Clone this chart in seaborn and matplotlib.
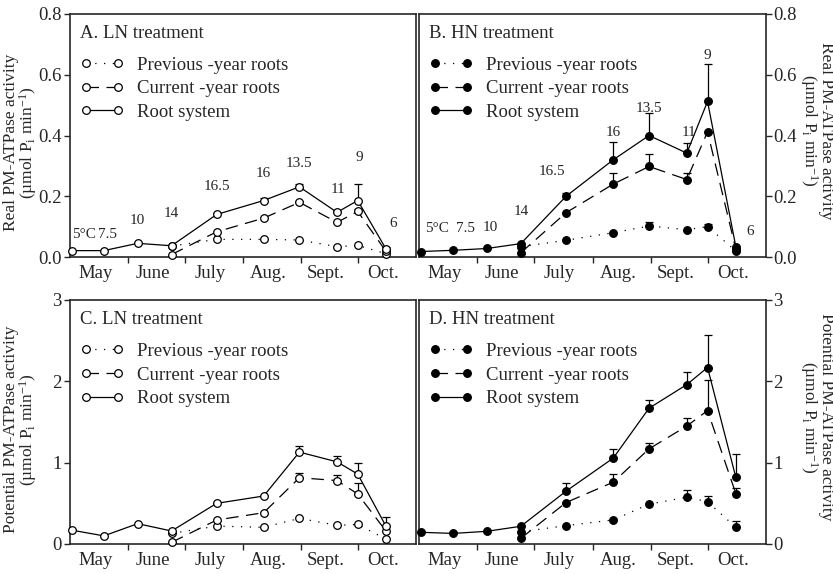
import numpy as np
import pandas as pd
import matplotlib
matplotlib.use("Agg")
import matplotlib.pyplot as plt
import seaborn as sns

# ------------------------------------------------------------------ data
sample_days = [1, 18, 36, 54, 78, 103, 122, 142, 153, 168]   # days after 1 May
temperatures = ["5°C", "7.5", "10", "14", "16.5", "16", "13.5", "11", "9", "6"]
month_labels = ["May", "June", "July", "Aug.", "Sept.", "Oct."]
month_starts = [0, 31, 61, 92, 123, 153, 184]
series_labels = ["Previous -year roots", "Current -year roots", "Root system"]
nan = np.nan

# A. LN treatment, real activity
ln_real_prev = [nan, nan, nan, 0.036, 0.058, 0.058, 0.056, 0.034, 0.038, 0.011]
ln_real_curr = [nan, nan, nan, 0.008, 0.083, 0.128, 0.180, 0.114, 0.150, 0.019]
ln_real_root = [0.021, 0.021, 0.045, 0.037, 0.140, 0.186, 0.231, 0.147, 0.186, 0.027]
ln_real_prev_err = [0, 0, 0, 0, 0, 0, 0, 0, 0, 0]
ln_real_curr_err = [0, 0, 0, 0, 0, 0, 0.004, 0, 0.008, 0]
ln_real_root_err = [0, 0, 0, 0, 0.004, 0.008, 0.010, 0.006, 0.055, 0.005]

# B. HN treatment, real activity
hn_real_prev = [nan, nan, nan, 0.034, 0.055, 0.080, 0.102, 0.090, 0.100, 0.020]
hn_real_curr = [nan, nan, nan, 0.014, 0.146, 0.240, 0.298, 0.255, 0.412, 0.026]
hn_real_root = [0.018, 0.022, 0.028, 0.044, 0.200, 0.320, 0.400, 0.342, 0.512, 0.034]
hn_real_prev_err = [0, 0, 0, 0, 0, 0, 0.012, 0, 0.010, 0]
hn_real_curr_err = [0, 0, 0, 0, 0, 0.035, 0.040, 0.020, 0, 0]
hn_real_root_err = [0, 0, 0, 0, 0.012, 0.060, 0.075, 0.033, 0.125, 0]

# C. LN treatment, potential activity
ln_pot_prev = [nan, nan, nan, 0.13, 0.22, 0.205, 0.315, 0.23, 0.24, 0.06]
ln_pot_curr = [nan, nan, nan, 0.02, 0.295, 0.385, 0.815, 0.78, 0.615, 0.16]
ln_pot_root = [0.17, 0.10, 0.25, 0.16, 0.50, 0.59, 1.13, 1.01, 0.86, 0.22]
ln_pot_prev_err = [0, 0, 0, 0, 0, 0, 0, 0, 0, 0]
ln_pot_curr_err = [0, 0, 0, 0, 0, 0, 0.06, 0.07, 0.14, 0]
ln_pot_root_err = [0, 0, 0, 0, 0.02, 0, 0.08, 0.07, 0.14, 0.11]

# D. HN treatment, potential activity
hn_pot_prev = [nan, nan, nan, 0.15, 0.226, 0.296, 0.49, 0.575, 0.52, 0.205]
hn_pot_curr = [nan, nan, nan, 0.07, 0.51, 0.76, 1.17, 1.45, 1.64, 0.62]
hn_pot_root = [0.144, 0.13, 0.156, 0.218, 0.65, 1.056, 1.67, 1.96, 2.17, 0.82]
hn_pot_prev_err = [0, 0, 0, 0, 0, 0, 0, 0.095, 0.075, 0.08]
hn_pot_curr_err = [0, 0, 0, 0, 0, 0.10, 0.07, 0.10, 0.38, 0.07]
hn_pot_root_err = [0, 0, 0, 0, 0.10, 0.115, 0.095, 0.15, 0.40, 0.29]

# temperature label placement (layout: day, y in data units)
temp_pos_A = [(7.5, 0.075), (20, 0.075), (35.6, 0.121), (54, 0.143), (78, 0.233),
              (103, 0.275), (122, 0.309), (142.5, 0.222), (153.7, 0.329), (171.8, 0.11)]
temp_pos_B = [(9.5, 0.095), (24.5, 0.095), (37.6, 0.098), (54, 0.15), (70.5, 0.28),
              (103, 0.41), (122, 0.49), (143, 0.41), (153, 0.665), (175.5, 0.085)]

# ------------------------------------------------------------------ style
sns.set_style("ticks")
plt.rcParams["font.family"] = ["Liberation Serif", "DejaVu Serif"]
plt.rcParams["mathtext.fontset"] = "custom"
plt.rcParams["mathtext.rm"] = "Liberation Serif"
plt.rcParams["mathtext.it"] = "Liberation Serif:italic"
plt.rcParams["axes.linewidth"] = 1.2

W, H = 833, 574
fig = plt.figure(figsize=(W / 100, H / 100), dpi=100)
fig.patch.set_facecolor("white")


def add_ax(l, r, t, b):
    return fig.add_axes([l / W, 1 - b / H, (r - l) / W, (b - t) / H])


axA = add_ax(70, 416, 14, 257)
axB = add_ax(419, 766, 14, 257)
axC = add_ax(70, 416, 300, 544)
axD = add_ax(419, 766, 300, 544)

styles = [(0, (1, 6)), (0, (10, 6)), "-"]


def draw(ax, prev, curr, root, errs, filled, ylim, yticks, fmt, title, side,
         ylabel_top, temp_pos=None):
    face = "black" if filled else "white"
    for vals, err, ls, lab in zip([prev, curr, root], errs, styles, series_labels):
        df = pd.DataFrame({"day": sample_days, "val": vals, "err": err}).dropna()
        sns.lineplot(data=df, x="day", y="val", ax=ax, color="black", lw=0.9,
                     linestyle=ls, marker="o", ms=5.5, mfc=face, mec="black",
                     mew=0.9, label=lab, zorder=4, errorbar=None, clip_on=False)
        e = df[df["err"] > 0]
        if len(e):
            ax.errorbar(e["day"], e["val"], yerr=[np.zeros(len(e)), e["err"]],
                        fmt="none", ecolor="black", elinewidth=0.9, capsize=3,
                        capthick=0.9, zorder=3)
    ax.set_xlim(month_starts[0], month_starts[-1])
    ax.set_ylim(*ylim)
    ax.set_xticks(month_starts[1:-1])
    ax.set_xticklabels([])
    centers = [(a + b) / 2 - 2 for a, b in zip(month_starts[:-1], month_starts[1:])]
    ax.set_xticks(centers, minor=True)
    ax.set_xticklabels(month_labels, minor=True, fontsize=13.5)
    ax.tick_params(axis="x", which="minor", length=0, pad=6)
    ax.tick_params(axis="x", which="major", direction="out", length=4, width=1)
    ax.set_yticks(yticks)
    ax.set_yticklabels([fmt.format(v) for v in yticks], fontsize=13.5)
    ax.tick_params(axis="y", direction="out", length=4, width=1, pad=2)
    ax.set_xlabel("")
    ax.set_ylabel("")
    for s in ax.spines.values():
        s.set_visible(True)
        s.set_linewidth(1.2)
    label = ylabel_top + "\n(µmol P$_{\\rm i}$ min$^{-1}$)"
    if side == "right":
        ax.yaxis.tick_right()
        ax.tick_params(axis="y", pad=1)
        ax.text(1.145, 0.52, label, transform=ax.transAxes, rotation=-90,
                ha="center", va="center", fontsize=12.5, linespacing=0.9,
                multialignment="center")
    else:
        ax.text(-0.142, 0.47, label, transform=ax.transAxes, rotation=90,
                ha="center", va="center", fontsize=12.5, linespacing=0.9,
                multialignment="center")
    ax.text(0.029, 0.92, title, transform=ax.transAxes, ha="left", va="center",
            fontsize=13.5)
    ax.legend(loc="upper left", bbox_to_anchor=(0.030, 0.825), frameon=False,
              numpoints=2, handlelength=2.3, handletextpad=0.7, labelspacing=0.35,
              borderpad=0, borderaxespad=0, fontsize=13.5)
    if temp_pos is not None:
        for t, (x, y) in zip(temperatures, temp_pos):
            ax.text(x, y, t, ha="center", va="center", fontsize=11)


draw(axA, ln_real_prev, ln_real_curr, ln_real_root,
     [ln_real_prev_err, ln_real_curr_err, ln_real_root_err], False,
     (0, 0.8), [0, 0.2, 0.4, 0.6, 0.8], "{:.1f}", "A. LN treatment", "left",
     "Real PM-ATPase activity", temp_pos_A)
draw(axB, hn_real_prev, hn_real_curr, hn_real_root,
     [hn_real_prev_err, hn_real_curr_err, hn_real_root_err], True,
     (0, 0.8), [0, 0.2, 0.4, 0.6, 0.8], "{:.1f}", "B. HN treatment", "right",
     "Real PM-ATPase activity", temp_pos_B)
draw(axC, ln_pot_prev, ln_pot_curr, ln_pot_root,
     [ln_pot_prev_err, ln_pot_curr_err, ln_pot_root_err], False,
     (0, 3), [0, 1, 2, 3], "{:.0f}", "C. LN treatment", "left",
     "Potential PM-ATPase activity")
draw(axD, hn_pot_prev, hn_pot_curr, hn_pot_root,
     [hn_pot_prev_err, hn_pot_curr_err, hn_pot_root_err], True,
     (0, 3), [0, 1, 2, 3], "{:.0f}", "D. HN treatment", "right",
     "Potential PM-ATPase activity")

fig.savefig("out.png", dpi=100, facecolor="white")
